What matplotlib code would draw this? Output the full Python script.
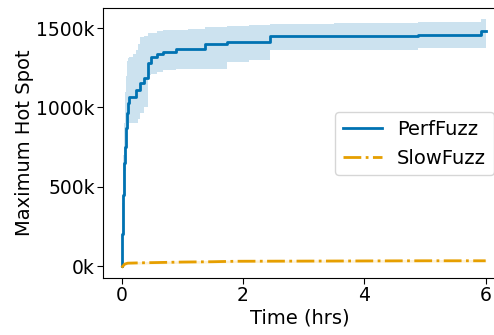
import numpy as np
import matplotlib.pyplot as plt
from matplotlib.ticker import FuncFormatter

# PerfFuzz: mean and band (hours, hot-spot count)
t_perf = [0, 0.01, 0.02, 0.035, 0.054, 0.065, 0.082, 0.10, 0.126, 0.18, 0.23, 0.27, 0.30, 0.37,
          0.44, 0.49, 0.58, 0.68, 0.90, 1.10, 1.37, 1.73, 2.10, 2.44, 3.5, 4.88, 5.93, 6.0]
perf_mean = [0, 200e3, 450e3, 650e3, 752e3, 870e3, 963e3, 1030e3, 1067e3, 1067e3, 1110e3, 1110e3,
             1156e3, 1183e3, 1278e3, 1320e3, 1335e3, 1351e3, 1366e3, 1366e3, 1398e3, 1414e3,
             1414e3, 1450e3, 1450e3, 1460e3, 1484e3, 1484e3]
perf_lo = [0, 100e3, 300e3, 500e3, 600e3, 750e3, 860e3, 880e3, 901e3, 901e3, 905e3, 930e3,
           964e3, 1000e3, 1204e3, 1210e3, 1225e3, 1236e3, 1240e3, 1240e3, 1240e3, 1288e3,
           1300e3, 1362e3, 1362e3, 1372e3, 1372e3, 1372e3]
perf_hi = [0, 400e3, 700e3, 900e3, 1100e3, 1200e3, 1290e3, 1311e3, 1320e3, 1340e3, 1362e3, 1400e3,
           1446e3, 1450e3, 1467e3, 1470e3, 1480e3, 1488e3, 1490e3, 1495e3, 1509e3, 1512e3,
           1520e3, 1526e3, 1535e3, 1540e3, 1555e3, 1555e3]

# SlowFuzz
t_slow = [0, 0.05, 0.1, 0.3, 0.6, 1.0, 1.5, 1.9, 3.0, 4.0, 5.0, 6.0]
slow_mean = [-10e3, 12e3, 18e3, 20e3, 22e3, 25e3, 27e3, 30e3, 31e3, 32e3, 33e3, 33e3]
slow_lo = [-15e3, 5e3, 10e3, 12e3, 14e3, 17e3, 19e3, 22e3, 23e3, 24e3, 25e3, 25e3]
slow_hi = [-5e3, 18e3, 25e3, 28e3, 30e3, 33e3, 35e3, 38e3, 39e3, 40e3, 41e3, 41e3]

blue = '#0072B2'
orange = '#E69F00'

fig = plt.figure(figsize=(4.94, 3.35), dpi=100)
ax = fig.add_axes([0.209, 0.170, 0.795, 0.806])

ax.fill_between(t_perf, perf_lo, perf_hi, step='post', color=blue, alpha=0.2, lw=0)
ax.plot(t_perf, perf_mean, drawstyle='steps-post', color=blue, lw=2, label='PerfFuzz')
ax.fill_between(t_slow, slow_lo, slow_hi, color=orange, alpha=0.15, lw=0)
ax.plot(t_slow, slow_mean, color=orange, lw=2, ls='-.', label='SlowFuzz')

ax.set_xlim(-0.303, 6.17)
ax.set_ylim(-76e3, 1627e3)
ax.set_xticks([0, 2, 4, 6])
ax.set_yticks([0, 500e3, 1000e3, 1500e3])
ax.yaxis.set_major_formatter(FuncFormatter(lambda v, p: '%dk' % round(v / 1000)))
ax.tick_params(labelsize=13.5, length=4, width=0.8, pad=2)
ax.set_xlabel('Time (hrs)', fontsize=14, labelpad=2)
ax.set_ylabel('Maximum Hot Spot', fontsize=14, labelpad=2)
ax.spines['right'].set_visible(False)

ax.legend(loc='upper left', bbox_to_anchor=(335 / 494, 1 - 112 / 335),
          bbox_transform=fig.transFigure, fontsize=14, handlelength=2.0,
          borderaxespad=0, frameon=True)

fig.savefig('out.png', dpi=100)
